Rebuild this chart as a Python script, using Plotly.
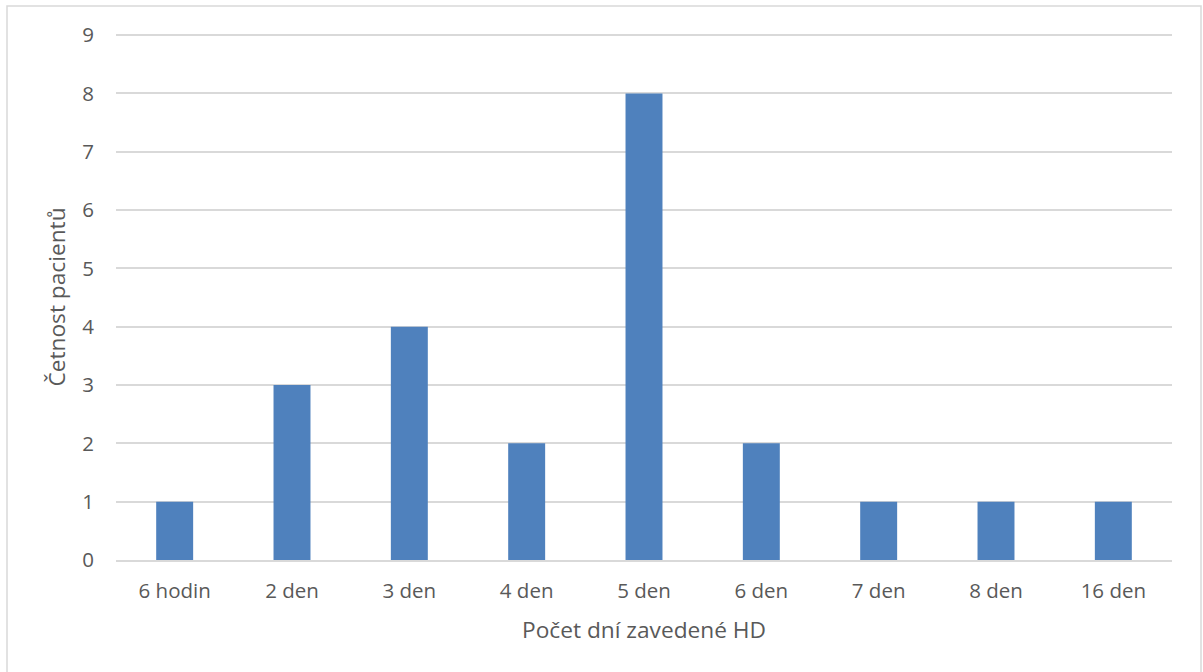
import plotly.graph_objects as go

categories = ["6 hodin", "2 den", "3 den", "4 den", "5 den", "6 den", "7 den", "8 den", "16 den"]
counts = [1, 3, 4, 2, 8, 2, 1, 1, 1]
y_ticks = list(range(0, 10))

W, H = 1203, 672
L, R, T, B = 116, 31, 34, 112
pw, ph = W - L - R, H - T - B

def px_x(x):
    return (x - L) / pw

def px_y(y):
    return (H - B - y) / ph

font_family = "Open Sans, Carlito, Calibri, sans-serif"
text_color = "#595959"
tick_size = 20.5
title_size = 22.7

fig = go.Figure(
    go.Bar(
        x=categories,
        y=counts,
        marker=dict(color="#4F81BD", line=dict(width=0)),
        width=0.315,
    )
)

fig.update_layout(
    width=W,
    height=H,
    margin=dict(l=L, r=R, t=T, b=B),
    paper_bgcolor="white",
    plot_bgcolor="white",
    showlegend=False,
    font=dict(family=font_family, color=text_color, size=tick_size),
    xaxis=dict(
        showgrid=False,
        showline=True,
        linecolor="#D9D9D9",
        linewidth=1.5,
        ticks="",
        tickfont=dict(size=tick_size, color=text_color),
        ticklabelstandoff=12,
        title=dict(text="Počet dní zavedené HD", font=dict(size=title_size, color=text_color), standoff=19),
    ),
    yaxis=dict(
        range=[0, 9.02],
        tickvals=y_ticks,
        showgrid=True,
        gridcolor="#D9D9D9",
        gridwidth=1.5,
        zeroline=False,
        showline=False,
        ticks="",
        tickfont=dict(size=tick_size, color=text_color),
        ticklabelstandoff=21,
        title=dict(text="Četnost pacientů", font=dict(size=title_size, color=text_color), standoff=10),
    ),
    shapes=[
        dict(
            type="rect",
            xref="paper",
            yref="paper",
            x0=px_x(7),
            x1=px_x(1201),
            y0=px_y(6),
            y1=px_y(680),
            line=dict(color="#D9D9D9", width=1.5),
            fillcolor="rgba(0,0,0,0)",
            layer="below",
        )
    ],
)

fig.write_html("out.html")
